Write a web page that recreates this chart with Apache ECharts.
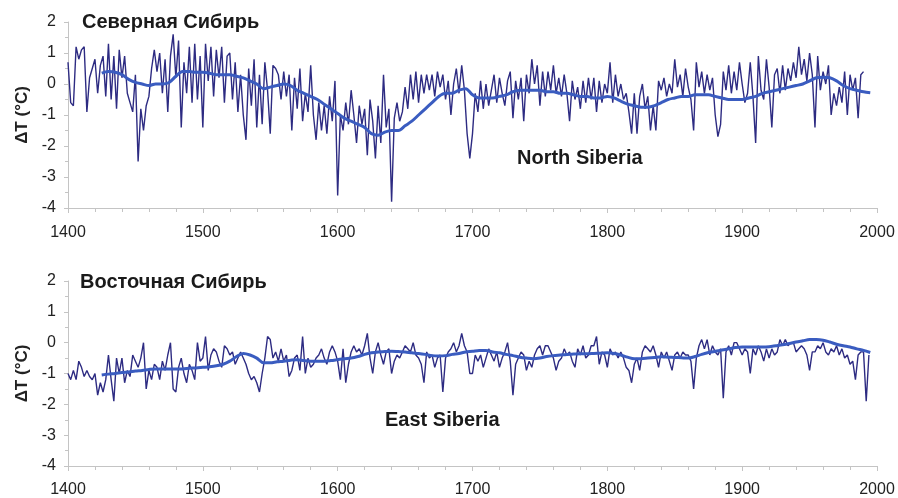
<!DOCTYPE html>
<html>
<head>
<meta charset="utf-8">
<script src="https://cdn.jsdelivr.net/npm/echarts@6/dist/echarts.min.js"></script>
<style>
  html, body { margin: 0; padding: 0; background: #fff; }
  #chart { width: 898px; height: 498px; }
</style>
</head>
<body>
<div id="chart"></div>
<script>
// annual reconstruction, sampled every 2 years from 1400
const northStart = 1400
const northValues = [
  0.7, -0.6, -0.7, 1.2, 0.8,
  1.1, 1.2, -0.9, 0.2, 0.5,
  0.8, -0.3, 0.6, 0.9, -0.4,
  1.3, -0.5, 0.9, -0.8, 1.1,
  0.2, 0.9, -0.3, -0.6, -0.9,
  0.3, -2.5, -0.8, -1.5, -0.7,
  -0.4, 0.5, 1.1, 0.4, 1.0,
  -0.3, 0.8, -0.9, 0.9, 1.6,
  0.2, 1.4, -1.4, 0.7, -0.3,
  1.2, -0.6, 1.3, -0.5, 0.9,
  -1.4, 1.3, 0.1, 1.2, -0.4,
  1.1, 0.2, 1.2, -0.6, 0.9,
  1.0, -0.5, 0.7, -0.9, 0.3,
  -1.0, -1.8, 0.5, -0.7, 0.8,
  -1.4, 0.3, -1.3, 0.7, -0.2,
  -1.6, 0.6, 0.5, 0.3, -0.5,
  0.4, -0.4, 0.3, -1.5, 0.2,
  -0.8, 0.5, -1.2, -0.3, -0.9,
  0.6, -1.0, -1.8, -0.6, -1.5,
  -0.7, -1.6, -0.4, -1.2, 0.1,
  -3.6, -1.0, -1.5, -0.6, -1.3,
  -0.2, -1.0, -1.9, -0.7, -1.3,
  -0.8, -2.3, -0.5, -1.2, -2.4,
  -0.7, -1.9, 0.3, -1.4, -0.8,
  -3.8, -1.1, -0.6, -1.2, -0.9,
  -0.1, -0.8, 0.3, -0.5, 0.4,
  -0.6, 0.3, -0.3, 0.3, -0.2,
  0.3, -0.4, 0.4, -0.1, 0.3,
  -0.5, 0.1, -1.0, 0.0, 0.5,
  -0.3, 0.6, -0.2, -1.6, -2.4,
  -1.6, -0.3, -0.9, 0.1, -0.8,
  0.0, -0.7, -0.2, 0.3, -0.6,
  0.2, -0.3, -0.7, 0.1, 0.4,
  -1.1, 0.1, -0.5, 0.2, -1.2,
  0.3, -0.3, 0.8, 0.0, 0.6,
  -0.7, 0.4, -0.4, 0.4, -0.2,
  0.6, -0.3, 0.2, -0.4, 0.3,
  -0.3, -1.2, 0.1, -0.5, -0.1,
  -0.8, 0.1, -0.6, 0.2, -0.5,
  0.2, -0.9, 0.1, -0.6, 0.0,
  -0.3, 0.7, -0.6, 0.3, -0.4,
  0.0, -0.5, -0.3, -0.9, -1.6,
  -0.3, -1.6, -0.4, 0.0, -0.8,
  -0.4, -1.5, -0.7, -1.5, 0.1,
  -0.2, 0.2, -0.4, 0.0, -0.3,
  0.8, -0.1, 0.3, -0.4, 0.5,
  -0.1, -0.5, -1.5, 0.7, -0.1,
  0.4, -0.3, 0.3, -0.2, 0.2,
  -1.0, -1.7, -1.3, 0.4, -0.2,
  0.6, -0.3, 0.4, -0.2, 0.7,
  0.0, -0.6, -0.3, 0.7, -0.4,
  -1.9, 0.9, -0.2, -0.5, 0.8,
  -0.1, -1.4, 0.3, 0.5, -0.3,
  0.6, -0.2, 0.5, 0.1, 0.7,
  0.2, 1.2, 0.3, 0.8, 0.1,
  1.0, 0.3, -1.4, 0.9, -0.2,
  0.4, 0.0, 0.6, -1.0, -0.3,
  -0.7, -0.1, -0.6, 0.4, -1.0,
  0.3, -0.2, 0.2, -1.1, 0.3,
  0.4
]

const eastStart = 1400
const eastValues = [
  -1.0, -1.2, -0.9, -1.2, -0.6,
  -0.8, -1.1, -0.9, -1.1, -1.2,
  -1.0, -1.7, -1.3, -1.6, -1.2,
  -0.4, -1.2, -1.9, -0.5, -1.0,
  -0.5, -1.3, -0.9, -1.1, -0.4,
  -0.6, -0.8, -0.5, 0.0, -1.5,
  -0.9, -1.2, -0.7, -0.8, -1.2,
  -0.6, -0.9, -0.4, 0.0, -1.5,
  -1.6, -0.8, -0.5, -1.0, -1.3,
  -0.7, -0.9, -1.2, 0.0, -0.6,
  -0.5, 0.2, -0.9, -0.4, -0.2,
  -0.3, -0.6, -0.8, -0.1, -0.2,
  -0.4, -0.3, -0.7, -0.5, -0.3,
  -0.5, -0.7, -1.0, -1.2, -1.1,
  -1.3, -1.6, -1.0, -0.5, 0.2,
  0.1, -0.5, -0.3, -0.6, -0.2,
  -0.6, -0.4, -1.1, -0.9, -0.5,
  -0.4, -0.9, 0.2, -1.0, -0.5,
  -0.8, -0.7, -0.5, -0.4, -0.2,
  -0.5, -0.7, -0.3, -0.1, -0.3,
  -0.6, -1.2, -0.2, -1.3, -0.7,
  -0.3, -0.1, -0.3, -0.2, -0.4,
  -0.1, 0.3, -0.5, -1.0, -0.3,
  0.0, -0.4, -0.7, -0.3, -0.2,
  -1.0, -0.6, -0.4, -0.5, -0.3,
  -0.1, -0.2, -0.3, 0.0, -0.4,
  -0.5, -0.7, -1.3, -0.3, -0.5,
  -0.4, -0.8, -0.5, -0.4, -1.6,
  -0.5, -0.3, -0.2, 0.0, -0.3,
  -0.1, 0.3, -0.1, -0.3, -1.0,
  -1.0, -0.4, -0.6, -0.4, -0.8,
  -0.5, -0.2, -0.4, -0.6, -0.3,
  -0.8, -0.5, -0.3, 0.0, -0.6,
  -1.7, -0.7, -0.5, -0.3, -0.4,
  -0.9, -0.6, -0.8, -0.4, -0.2,
  -0.1, -0.4, -0.1, -0.1, -0.3,
  -0.5, -0.9, -0.6, -0.5, -0.2,
  -0.4, -0.3, -0.6, -0.8, -0.2,
  -0.4, -0.1, -0.5, -0.4, -0.1,
  -0.1, 0.2, -0.7, -0.3, -0.4,
  -0.8, -0.2, -0.4, -0.3, -0.5,
  -0.3, -0.5, -0.8, -0.9, -1.3,
  -0.7, -0.5, -0.9, -0.3, -0.1,
  -0.2, -0.3, -0.1, -0.4, -0.8,
  -0.3, -0.5, -0.3, -0.6, -0.9,
  -0.4, -0.3, -0.5, -0.3, -0.4,
  -0.4, -0.6, -1.5, -0.5, -0.1,
  0.1, -0.2, 0.1, -0.4, -0.1,
  -0.3, -0.4, -0.2, -1.8, -0.3,
  -0.1, -0.4, 0.0, 0.0, -0.2,
  -0.4, -0.2, -0.3, -1.0, -0.2,
  -0.4, -0.1, -0.3, -0.6, -0.2,
  -0.5, -0.2, -0.4, -0.3, 0.1,
  -0.1, 0.1, -0.1, 0.0, 0.0,
  -0.3, -0.2, -0.1, -0.2, -0.4,
  -0.9, -0.3, -0.3, -0.1, -0.2,
  0.0, -0.3, -0.4, -0.2, -0.3,
  -0.1, -0.4, -0.2, -0.5, -0.4,
  -0.7, -0.6, -1.2, -0.4, -0.3,
  -0.3, -1.9, -0.4
]

// smoothed curves, every 5 years from 1425
const smoothStart = 1425
const northSmooth = [
  0.35, 0.4, 0.38, 0.3, 0.15,
  0.05, 0.0, -0.05, 0.0, 0.0,
  0.05, 0.25, 0.4, 0.4, 0.38,
  0.38, 0.35, 0.3, 0.3, 0.3,
  0.25, 0.2, 0.1, 0.0, -0.15,
  -0.1, -0.05, 0.0, -0.05, -0.2,
  -0.3, -0.4, -0.5, -0.65, -0.8,
  -0.95, -1.1, -1.2, -1.3, -1.4,
  -1.6, -1.65, -1.55, -1.5, -1.5,
  -1.35, -1.2, -1.0, -0.8, -0.6,
  -0.4, -0.3, -0.3, -0.2, -0.15,
  -0.35, -0.45, -0.45, -0.45, -0.4,
  -0.35, -0.25, -0.2, -0.2, -0.2,
  -0.2, -0.25, -0.25, -0.3, -0.3,
  -0.35, -0.4, -0.4, -0.45, -0.45,
  -0.4, -0.45, -0.55, -0.65, -0.7,
  -0.75, -0.75, -0.7, -0.6, -0.5,
  -0.45, -0.4, -0.4, -0.35, -0.35,
  -0.35, -0.4, -0.45, -0.5, -0.5,
  -0.5, -0.45, -0.4, -0.3, -0.25,
  -0.2, -0.15, -0.1, -0.05, 0.0,
  0.1, 0.2, 0.22, 0.2, 0.1,
  -0.05, -0.15, -0.2, -0.25, -0.28
]
const eastSmooth = [
  -1.05, -1.02, -1.0, -0.97, -0.95,
  -0.92, -0.9, -0.87, -0.85, -0.85,
  -0.85, -0.85, -0.85, -0.83, -0.82,
  -0.8, -0.78, -0.75, -0.7, -0.6,
  -0.45, -0.35, -0.4, -0.5, -0.65,
  -0.65, -0.62, -0.6, -0.57, -0.55,
  -0.58, -0.6, -0.6, -0.6, -0.58,
  -0.55, -0.52, -0.5, -0.45, -0.38,
  -0.33, -0.3, -0.29, -0.28, -0.29,
  -0.3, -0.33, -0.35, -0.38, -0.42,
  -0.43, -0.42, -0.38, -0.35, -0.3,
  -0.28, -0.25, -0.25, -0.3, -0.33,
  -0.38, -0.42, -0.47, -0.5, -0.52,
  -0.5, -0.45, -0.42, -0.4, -0.38,
  -0.37, -0.36, -0.36, -0.35, -0.34,
  -0.33, -0.35, -0.4, -0.47, -0.52,
  -0.52, -0.5, -0.48, -0.46, -0.47,
  -0.48, -0.49, -0.5, -0.45, -0.38,
  -0.32, -0.28, -0.24, -0.2, -0.16,
  -0.14, -0.14, -0.14, -0.14, -0.13,
  -0.1, -0.07, -0.03, 0.02, 0.06,
  0.1, 0.1, 0.08, 0.02, -0.05,
  -0.1, -0.14, -0.2, -0.25, -0.32
]

const yearTicks = [1400, 1500, 1600, 1700, 1800, 1900, 2000]

const toPairs = (start, step, values) => values.map((v, i) => [start + i * step, v])

const chart = echarts.init(document.getElementById('chart'))

const noiseColor = '#2d2b82'
const smoothColor = '#3a5cc0'
const axisGray = '#c4c4c4'
const textFont = '"Liberation Sans", Arial, sans-serif'

const makeX = (gridIndex, margin) => ({
  type: 'value',
  gridIndex,
  min: yearTicks[0],
  max: yearTicks[yearTicks.length - 1],
  interval: 100,
  axisLine: { show: true, onZero: false, lineStyle: { color: axisGray, width: 1 } },
  axisTick: { show: true, length: 5, lineStyle: { color: axisGray } },
  minorTick: { show: true, splitNumber: 5, length: 4, lineStyle: { color: axisGray } },
  splitLine: { show: false },
  axisLabel: {
    color: '#222', fontSize: 16, fontFamily: textFont, margin,
    formatter: (v) => String(v)
  }
})

const makeY = (gridIndex) => ({
  type: 'value',
  gridIndex,
  min: -4,
  max: 2,
  interval: 1,
  name: 'ΔT (°C)',
  nameLocation: 'middle',
  nameGap: 37,
  nameTextStyle: { color: '#222', fontSize: 17, fontWeight: 'bold', fontFamily: textFont },
  axisLine: { show: true, onZero: false, lineStyle: { color: axisGray, width: 1 } },
  axisTick: { show: true, length: 4, lineStyle: { color: axisGray } },
  minorTick: { show: true, splitNumber: 2, length: 3, lineStyle: { color: axisGray } },
  splitLine: { show: false },
  axisLabel: { color: '#222', fontSize: 16, fontFamily: textFont, margin: 12 }
})

const option = {
  animation: false,
  backgroundColor: '#fff',
  grid: [
    { left: 68, right: 21, top: 22, height: 186 },
    { left: 68, right: 21, top: 281, height: 185 }
  ],
  xAxis: [makeX(0, 17), makeX(1, 16)],
  yAxis: [makeY(0), makeY(1)],
  graphic: [
    { type: 'text', left: 82, top: 12, style: { text: 'Северная Сибирь', font: 'bold 20px ' + textFont, fill: '#1a1a1a' } },
    { type: 'text', left: 517, top: 148, style: { text: 'North Siberia', font: 'bold 20px ' + textFont, fill: '#1a1a1a' } },
    { type: 'text', left: 80, top: 272, style: { text: 'Восточная Сибирь', font: 'bold 20px ' + textFont, fill: '#1a1a1a' } },
    { type: 'text', left: 385, top: 410, style: { text: 'East Siberia', font: 'bold 20px ' + textFont, fill: '#1a1a1a' } }
  ],
  series: [
    {
      type: 'line', xAxisIndex: 0, yAxisIndex: 0,
      data: toPairs(northStart, 2, northValues),
      showSymbol: false, lineStyle: { color: noiseColor, width: 1.4 }
    },
    {
      type: 'line', xAxisIndex: 0, yAxisIndex: 0,
      data: toPairs(smoothStart, 5, northSmooth),
      showSymbol: false, smooth: 0.3, lineStyle: { color: smoothColor, width: 3 }
    },
    {
      type: 'line', xAxisIndex: 1, yAxisIndex: 1,
      data: toPairs(eastStart, 2, eastValues),
      showSymbol: false, lineStyle: { color: noiseColor, width: 1.4 }
    },
    {
      type: 'line', xAxisIndex: 1, yAxisIndex: 1,
      data: toPairs(smoothStart, 5, eastSmooth),
      showSymbol: false, smooth: 0.3, lineStyle: { color: smoothColor, width: 3 }
    }
  ]
}

chart.setOption(option)
</script>
</body>
</html>
